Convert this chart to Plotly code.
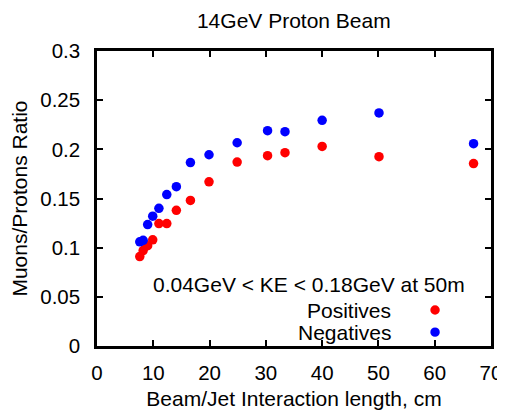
import plotly.graph_objects as go

length_cm = [7.6, 8.2, 9.0, 9.9, 11.0, 12.4, 14.1, 16.6, 19.9, 24.9, 30.3, 33.4, 40.0, 50.1, 66.9]
positives = [0.091, 0.097, 0.102, 0.108, 0.1245, 0.1245, 0.138, 0.148, 0.167, 0.187, 0.1935, 0.1966, 0.203, 0.1925, 0.1855]
negatives = [0.106, 0.1075, 0.1235, 0.132, 0.140, 0.154, 0.162, 0.1865, 0.1945, 0.2067, 0.219, 0.218, 0.2295, 0.237, 0.2057]

x_ticks = [0, 10, 20, 30, 40, 50, 60, 70]
y_ticks = [0, 0.05, 0.1, 0.15, 0.2, 0.25, 0.3]
y_tick_text = ["0", "0.05", "0.1", "0.15", "0.2", "0.25", "0.3"]

FONT = "Liberation Sans, Arial, sans-serif"
TICK_SIZE = 20.5
TEXT_SIZE = 21

fig = go.Figure()
fig.add_trace(go.Scatter(x=length_cm, y=positives, mode="markers", name="Positives",
                         marker=dict(color="#ff0000", size=9.5), showlegend=False))
fig.add_trace(go.Scatter(x=length_cm, y=negatives, mode="markers", name="Negatives",
                         marker=dict(color="#0000ff", size=9.5), showlegend=False))

axis_common = dict(showline=True, linecolor="black", linewidth=2.5, mirror="ticks",
                   ticks="inside", ticklen=6, tickwidth=2, tickcolor="black",
                   showgrid=False, zeroline=False, automargin=False,
                   tickfont=dict(family=FONT, size=TICK_SIZE, color="black"))

fig.update_layout(
    width=505, height=410,
    margin=dict(l=89, r=22, t=43, b=72),
    paper_bgcolor="white", plot_bgcolor="white",
    font=dict(family=FONT, size=TEXT_SIZE, color="black"),
    title=dict(text="14GeV Proton Beam", x=0.566, xanchor="center", y=0.968, yanchor="middle",
               font=dict(family=FONT, size=TEXT_SIZE, color="black")),
    xaxis=dict(range=[0, 70], tickvals=x_ticks, ticklabelstandoff=7,
               title=dict(text="Beam/Jet Interaction length, cm", standoff=8,
                          font=dict(family=FONT, size=TEXT_SIZE)), **axis_common),
    yaxis=dict(range=[0, 0.3], tickvals=y_ticks, ticktext=y_tick_text, ticklabelstandoff=10,
               title=dict(text="Muons/Protons Ratio", standoff=12,
                          font=dict(family=FONT, size=TEXT_SIZE)), **axis_common),
    showlegend=False,
)

fig.add_annotation(text="0.04GeV < KE < 0.18GeV at 50m", xref="paper", yref="paper",
                   x=0.538, y=0.21, xanchor="center", yanchor="middle", showarrow=False,
                   font=dict(family=FONT, size=TEXT_SIZE, color="black"))

legend_items = [("Positives", "#ff0000", 0.122), ("Negatives", "#0000ff", 0.047)]
for label, color, yy in legend_items:
    fig.add_annotation(text=label, xref="paper", yref="paper", x=0.752, y=yy,
                       xanchor="right", yanchor="middle", showarrow=False,
                       font=dict(family=FONT, size=TEXT_SIZE, color="black"))
    fig.add_shape(type="circle", xref="paper", yref="paper",
                  x0=0.858 - 0.012, x1=0.858 + 0.012, y0=yy - 0.016, y1=yy + 0.016,
                  fillcolor=color, line=dict(width=0))

fig.write_html("out.html")
